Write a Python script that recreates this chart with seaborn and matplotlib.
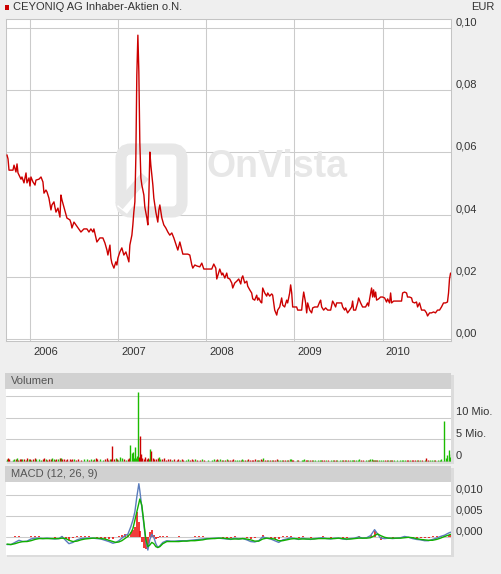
import matplotlib
matplotlib.use("Agg")
import matplotlib.pyplot as plt
from matplotlib.patches import Rectangle, FancyBboxPatch
from matplotlib.lines import Line2D
import seaborn as sns
import pandas as pd

# ---------------- data ----------------
title = "CEYONIQ AG Inhaber-Aktien o.N."
currency = "EUR"

price_t = [
    2005.739, 2005.751, 2005.762, 2005.807, 2005.819, 2005.841, 2005.853, 2005.864, 2005.887, 2005.898,
    2005.909, 2005.932, 2005.955, 2005.966, 2005.989, 2006.000, 2006.011, 2006.034, 2006.057, 2006.068,
    2006.102, 2006.125, 2006.147, 2006.159, 2006.181, 2006.193, 2006.215, 2006.238, 2006.249, 2006.272,
    2006.283, 2006.295, 2006.317, 2006.340, 2006.351, 2006.363, 2006.385, 2006.408, 2006.419, 2006.453,
    2006.465, 2006.476, 2006.499, 2006.521, 2006.544, 2006.578, 2006.612, 2006.646, 2006.669, 2006.691,
    2006.714, 2006.725, 2006.748, 2006.759, 2006.793,
    2006.827, 2006.850, 2006.873, 2006.884, 2006.907, 2006.918, 2006.929, 2006.952, 2006.974, 2006.986,
    2006.997, 2007.020, 2007.042, 2007.065, 2007.088, 2007.110, 2007.122, 2007.133, 2007.156, 2007.167,
    2007.178, 2007.190, 2007.201, 2007.212, 2007.224, 2007.235, 2007.246, 2007.258, 2007.269, 2007.292,
    2007.303, 2007.326, 2007.337, 2007.348, 2007.360, 2007.371, 2007.394, 2007.405, 2007.428, 2007.450,
    2007.462, 2007.473, 2007.496, 2007.518, 2007.541, 2007.564, 2007.586, 2007.609, 2007.632, 2007.666,
    2007.677, 2007.700, 2007.722, 2007.734,
    2007.768, 2007.790, 2007.813, 2007.836, 2007.847, 2007.870, 2007.892, 2007.926, 2007.949, 2007.972,
    2008.017, 2008.062, 2008.085, 2008.108, 2008.119, 2008.130, 2008.153, 2008.176, 2008.187, 2008.210,
    2008.232, 2008.244, 2008.266, 2008.289, 2008.300, 2008.323, 2008.346, 2008.368, 2008.391, 2008.402,
    2008.414, 2008.436, 2008.459, 2008.470, 2008.493, 2008.515, 2008.527, 2008.549, 2008.572, 2008.583,
    2008.595, 2008.617, 2008.629, 2008.640, 2008.663, 2008.685, 2008.697, 2008.719, 2008.742, 2008.753,
    2008.776, 2008.799, 2008.810, 2008.833, 2008.855, 2008.867, 2008.889, 2008.912, 2008.923, 2008.946,
    2008.957, 2008.969, 2008.980, 2009.025,
    2009.037, 2009.082, 2009.093, 2009.105, 2009.127, 2009.139, 2009.150, 2009.173, 2009.195, 2009.207,
    2009.229, 2009.263, 2009.286, 2009.297, 2009.309, 2009.331, 2009.354, 2009.377, 2009.411, 2009.433,
    2009.445, 2009.467, 2009.479, 2009.513, 2009.535, 2009.547, 2009.569, 2009.581, 2009.603, 2009.626,
    2009.649, 2009.660, 2009.671, 2009.694, 2009.717, 2009.728, 2009.751, 2009.773, 2009.807, 2009.830,
    2009.841, 2009.853, 2009.875, 2009.887, 2009.898, 2009.909, 2009.921, 2009.932, 2009.955, 2009.977,
    2010.000, 2010.023, 2010.045, 2010.057, 2010.079, 2010.091, 2010.102, 2010.125, 2010.159, 2010.193,
    2010.215, 2010.227, 2010.249, 2010.272, 2010.283, 2010.306, 2010.329, 2010.340, 2010.363, 2010.385,
    2010.397, 2010.419, 2010.442, 2010.476, 2010.498, 2010.510, 2010.533, 2010.555, 2010.578, 2010.600,
    2010.623, 2010.646, 2010.668, 2010.691, 2010.714, 2010.736, 2010.748, 2010.759, 2010.771,
]

price_v = [
    0.0592, 0.0579, 0.0543, 0.0543, 0.0559, 0.0537, 0.0563, 0.0534, 0.0521, 0.0514,
    0.0521, 0.0502, 0.0534, 0.0502, 0.0518, 0.0492, 0.0521, 0.0505, 0.0495, 0.0511,
    0.0514, 0.0521, 0.0505, 0.0469, 0.0479, 0.0473, 0.0453, 0.0415, 0.0431, 0.0441,
    0.0424, 0.0408, 0.0421, 0.0392, 0.0463, 0.0447, 0.0424, 0.0399, 0.0389, 0.0383,
    0.0373, 0.0357, 0.0376, 0.0367, 0.0357, 0.0344, 0.0354, 0.0354, 0.0344, 0.0354,
    0.0344, 0.0354, 0.0325, 0.0312, 0.0325,
    0.0325, 0.0309, 0.0286, 0.0270, 0.0302, 0.0260, 0.0244, 0.0228, 0.0248, 0.0238,
    0.0260, 0.0280, 0.0293, 0.0270, 0.0280, 0.0260, 0.0248, 0.0302, 0.0334, 0.0367,
    0.0408, 0.0441, 0.0585, 0.0849, 0.0977, 0.0859, 0.0633, 0.0518, 0.0495, 0.0463,
    0.0424, 0.0389, 0.0367, 0.0453, 0.0601, 0.0559, 0.0495, 0.0453, 0.0408, 0.0376,
    0.0415, 0.0431, 0.0389, 0.0367, 0.0357, 0.0344, 0.0334, 0.0341, 0.0325, 0.0296,
    0.0286, 0.0312, 0.0286, 0.0273,
    0.0273, 0.0273, 0.0270, 0.0238, 0.0228, 0.0238, 0.0235, 0.0232, 0.0244, 0.0225,
    0.0225, 0.0225, 0.0241, 0.0228, 0.0193, 0.0203, 0.0225, 0.0206, 0.0212, 0.0196,
    0.0212, 0.0196, 0.0193, 0.0180, 0.0164, 0.0180, 0.0186, 0.0193, 0.0177, 0.0196,
    0.0203, 0.0180, 0.0186, 0.0170, 0.0158, 0.0148, 0.0129, 0.0125, 0.0141, 0.0125,
    0.0132, 0.0119, 0.0116, 0.0164, 0.0148, 0.0138, 0.0148, 0.0138, 0.0145, 0.0141,
    0.0093, 0.0077, 0.0093, 0.0103, 0.0132, 0.0109, 0.0103, 0.0125, 0.0116, 0.0148,
    0.0174, 0.0148, 0.0103, 0.0103,
    0.0093, 0.0093, 0.0125, 0.0151, 0.0116, 0.0084, 0.0116, 0.0093, 0.0084, 0.0100,
    0.0103, 0.0103, 0.0119, 0.0125, 0.0103, 0.0093, 0.0100, 0.0093, 0.0093, 0.0122,
    0.0116, 0.0103, 0.0116, 0.0116, 0.0116, 0.0103, 0.0093, 0.0100, 0.0084, 0.0093,
    0.0103, 0.0122, 0.0093, 0.0093, 0.0116, 0.0132, 0.0116, 0.0103, 0.0103, 0.0116,
    0.0106, 0.0129, 0.0164, 0.0135, 0.0158, 0.0135, 0.0151, 0.0125, 0.0129, 0.0135,
    0.0135, 0.0132, 0.0119, 0.0129, 0.0116, 0.0148, 0.0116, 0.0122, 0.0122, 0.0122,
    0.0122, 0.0148, 0.0151, 0.0148, 0.0135, 0.0135, 0.0132, 0.0119, 0.0116, 0.0119,
    0.0103, 0.0116, 0.0093, 0.0093, 0.0084, 0.0074, 0.0084, 0.0084, 0.0087, 0.0084,
    0.0093, 0.0093, 0.0103, 0.0116, 0.0116, 0.0119, 0.0148, 0.0193, 0.0212,
]

# volume in millions, one bar per price point
volume_mio = [
    0.5, 0.6, 0.4, 0.3, 0.5, 0.4, 0.6, 0.3, 0.4, 0.5,
    0.4, 0.5, 0.3, 0.6, 0.4, 0.5, 0.3, 0.4, 0.6, 0.5,
    0.4, 0.3, 0.5, 0.6, 0.4, 0.3, 0.4, 0.5, 0.7, 0.4,
    0.3, 0.5, 0.4, 0.6, 0.8, 0.5, 0.4, 0.3, 0.4, 0.5,
    0.3, 0.4, 0.5, 0.3, 0.4, 0.3, 0.5, 0.4, 0.3, 0.4,
    0.3, 0.4, 0.6, 0.5, 0.4,
    0.3, 0.4, 0.6, 0.3, 0.5, 0.4, 3.5, 0.4, 0.6, 0.5,
    0.3, 0.9, 0.7, 0.4, 0.3, 0.5, 0.6, 3.7, 1.8, 2.0,
    0.6, 3.2, 0.8, 1.2, 16.0, 1.0, 5.8, 1.6, 0.7, 0.5,
    0.9, 0.4, 0.6, 0.5, 2.8, 2.3, 0.6, 0.5, 0.4, 0.6,
    0.9, 0.5, 0.4, 0.6, 0.3, 0.4, 0.5, 0.3, 0.4, 0.3,
    0.4, 0.3, 0.4, 0.3,
    0.3, 0.4, 0.3, 0.5, 0.3, 0.4, 0.2, 0.3, 0.4, 0.3,
    0.3, 0.2, 0.4, 0.3, 0.5, 0.3, 0.4, 0.2, 0.3, 0.3,
    0.4, 0.2, 0.3, 0.3, 0.4, 0.2, 0.3, 0.3, 0.2, 0.4,
    0.3, 0.2, 0.3, 0.4, 0.3, 0.2, 0.3, 0.5, 0.3, 0.2,
    0.3, 0.4, 0.3, 0.7, 0.3, 0.2, 0.3, 0.2, 0.3, 0.2,
    0.3, 0.4, 0.2, 0.3, 0.3, 0.2, 0.3, 0.2, 0.3, 0.4,
    0.5, 0.3, 0.2, 0.3,
    0.2, 0.3, 0.2, 0.4, 0.2, 0.3, 0.2, 0.2, 0.3, 0.2,
    0.2, 0.3, 0.2, 0.3, 0.2, 0.2, 0.3, 0.2, 0.2, 0.3,
    0.2, 0.2, 0.3, 0.2, 0.2, 0.3, 0.2, 0.2, 0.3, 0.2,
    0.2, 0.3, 0.2, 0.2, 0.3, 0.4, 0.2, 0.2, 0.3, 0.2,
    0.3, 0.4, 0.5, 0.3, 0.2, 0.3, 0.2, 0.3, 0.2, 0.2,
    0.3, 0.2, 0.3, 0.2, 0.2, 0.3, 0.2, 0.2, 0.3, 0.2,
    0.2, 0.3, 0.2, 0.2, 0.3, 0.2, 0.2, 0.3, 0.2, 0.2,
    0.3, 0.2, 0.3, 0.2, 0.7, 0.2, 0.3, 0.2, 0.3, 0.2,
    0.3, 0.2, 0.4, 9.3, 0.7, 1.4, 2.5, 1.0, 1.6,
]

macd_t = [
    2005.739, 2005.785, 2005.830, 2005.875, 2005.921, 2005.966, 2006.011, 2006.057, 2006.102, 2006.147,
    2006.193, 2006.238, 2006.283, 2006.329, 2006.363, 2006.408, 2006.442, 2006.487, 2006.533, 2006.578,
    2006.623, 2006.669, 2006.714, 2006.759, 2006.805, 2006.850, 2006.895, 2006.941, 2006.974, 2007.008,
    2007.042, 2007.076, 2007.110, 2007.144, 2007.167, 2007.190, 2007.212, 2007.235, 2007.246, 2007.269,
    2007.292, 2007.314, 2007.337, 2007.360, 2007.382, 2007.405, 2007.428, 2007.450, 2007.473, 2007.507,
    2007.552, 2007.598, 2007.643, 2007.688, 2007.734, 2007.779, 2007.824, 2007.870, 2007.915, 2007.960,
    2008.006, 2008.051, 2008.096, 2008.142, 2008.187, 2008.232, 2008.278, 2008.323, 2008.368, 2008.414,
    2008.459, 2008.504, 2008.549, 2008.595, 2008.640, 2008.685, 2008.731, 2008.776, 2008.822, 2008.867,
    2008.912, 2008.957, 2009.003, 2009.048, 2009.093, 2009.139, 2009.184, 2009.229, 2009.275, 2009.320,
    2009.365, 2009.411, 2009.456, 2009.501, 2009.547, 2009.592, 2009.637, 2009.683, 2009.728, 2009.773,
    2009.819, 2009.864, 2009.909, 2009.943, 2009.977, 2010.023, 2010.068, 2010.113, 2010.159, 2010.204,
    2010.249, 2010.295, 2010.340, 2010.385, 2010.431, 2010.476, 2010.521, 2010.567, 2010.612, 2010.657,
    2010.703, 2010.748, 2010.771,
]

macd_line = [
    -0.0017, -0.0017, -0.0012, -0.0007, -0.0010, -0.0009, -0.0004, -0.0002, -0.0002, -0.0003,
    -0.0002, -0.0003, -0.0004, -0.0003, 0.0002, -0.0008, -0.0015, -0.0012, -0.0006, -0.0003,
    -0.0002, -0.0002, -0.0002, -0.0003, -0.0004, -0.0007, -0.0010, -0.0014, -0.0012, -0.0008,
    -0.0002, 0.0004, 0.0007, 0.0025, 0.0040, 0.0060, 0.0095, 0.0126, 0.0110, 0.0070,
    0.0030, -0.0010, -0.0030, -0.0005, 0.0007, 0.0000, -0.0015, -0.0024, -0.0020, -0.0012,
    -0.0008, -0.0009, -0.0009, -0.0008, -0.0008, -0.0008, -0.0007, -0.0006, -0.0005, -0.0004,
    -0.0003, -0.0003, -0.0002, -0.0002, -0.0003, -0.0004, -0.0005, -0.0002, -0.0004, -0.0003,
    -0.0006, -0.0010, -0.0011, -0.0008, 0.0001, -0.0002, -0.0004, -0.0008, -0.0012, -0.0006,
    -0.0004, -0.0001, -0.0003, -0.0005, -0.0002, -0.0004, -0.0005, -0.0003, -0.0002, -0.0001,
    -0.0003, -0.0004, -0.0002, -0.0002, -0.0004, -0.0005, -0.0003, -0.0002, 0.0001, -0.0002,
    -0.0001, 0.0004, 0.0018, 0.0008, -0.0002, -0.0003, -0.0002, -0.0003, -0.0002, -0.0001,
    0.0002, 0.0000, -0.0003, -0.0005, -0.0006, -0.0008, -0.0008, -0.0005, -0.0002, 0.0002,
    0.0005, 0.0010, 0.0012,
]

signal_line = [
    -0.0016, -0.0017, -0.0015, -0.0012, -0.0010, -0.0010, -0.0008, -0.0005, -0.0003, -0.0003,
    -0.0003, -0.0003, -0.0003, -0.0003, -0.0002, -0.0003, -0.0007, -0.0010, -0.0009, -0.0006,
    -0.0004, -0.0003, -0.0002, -0.0002, -0.0003, -0.0004, -0.0007, -0.0010, -0.0012, -0.0011,
    -0.0008, -0.0003, 0.0002, 0.0010, 0.0020, 0.0040, 0.0060, 0.0080, 0.0090, 0.0075,
    0.0035, -0.0005, -0.0022, -0.0018, -0.0012, -0.0015, -0.0022, -0.0024, -0.0022, -0.0015,
    -0.0010, -0.0010, -0.0010, -0.0010, -0.0009, -0.0009, -0.0008, -0.0008, -0.0007, -0.0006,
    -0.0004, -0.0003, -0.0003, -0.0002, -0.0002, -0.0003, -0.0004, -0.0004, -0.0004, -0.0003,
    -0.0004, -0.0006, -0.0009, -0.0009, -0.0004, -0.0002, -0.0003, -0.0004, -0.0008, -0.0008,
    -0.0006, -0.0004, -0.0003, -0.0004, -0.0004, -0.0004, -0.0004, -0.0004, -0.0003, -0.0003,
    -0.0003, -0.0003, -0.0003, -0.0002, -0.0003, -0.0004, -0.0004, -0.0003, -0.0002, -0.0002,
    -0.0002, -0.0001, 0.0004, 0.0008, 0.0004, 0.0000, -0.0002, -0.0002, -0.0002, -0.0002,
    -0.0001, 0.0000, -0.0001, -0.0003, -0.0005, -0.0006, -0.0007, -0.0007, -0.0005, -0.0002,
    0.0002, 0.0005, 0.0007,
]

macd_hist = [
    0.0001, 0.0001, 0.0003, 0.0004, 0.0001, 0.0001, 0.0003, 0.0003, 0.0002, 0.0001,
    0.0001, 0.0001, -0.0001, 0.0001, 0.0004, -0.0004, -0.0006, -0.0002, 0.0003, 0.0003,
    0.0002, 0.0002, 0.0001, -0.0001, -0.0001, -0.0003, -0.0003, -0.0004, 0.0001, 0.0003,
    0.0005, 0.0007, 0.0005, 0.0012, 0.0018, 0.0025, 0.0060, 0.0036, 0.0015, -0.0012,
    -0.0026, -0.0028, -0.0022, 0.0012, 0.0017, 0.0006, -0.0004, -0.0002, 0.0002, 0.0003,
    0.0002, 0.0001, 0.0001, 0.0002, 0.0001, 0.0001, 0.0001, 0.0002, 0.0002, 0.0002,
    0.0001, 0.0001, 0.0001, 0.0001, -0.0001, -0.0001, -0.0001, 0.0002, 0.0001, 0.0001,
    -0.0002, -0.0004, -0.0002, 0.0001, 0.0005, 0.0001, -0.0001, -0.0004, -0.0004, 0.0002,
    0.0002, 0.0003, 0.0001, -0.0001, 0.0002, 0.0001, -0.0001, 0.0001, 0.0001, 0.0002,
    0.0001, -0.0001, 0.0001, 0.0001, -0.0001, -0.0001, 0.0001, 0.0001, 0.0003, 0.0001,
    0.0001, 0.0005, 0.0014, 0.0001, -0.0006, -0.0003, 0.0001, -0.0001, 0.0001, 0.0001,
    0.0003, 0.0001, -0.0002, -0.0002, -0.0001, -0.0002, -0.0001, 0.0002, 0.0003, 0.0004,
    0.0003, 0.0005, 0.0005,
]

years = [2006, 2007, 2008, 2009, 2010]
price_ticks = [0.00, 0.02, 0.04, 0.06, 0.08, 0.10]
price_tick_labels = ["0,00", "0,02", "0,04", "0,06", "0,08", "0,10"]
vol_grid = [0, 5, 10, 15]
vol_ticks = [0, 5, 10]
vol_tick_labels = ["0", "5 Mio.", "10 Mio."]
macd_ticks = [0.000, 0.005, 0.010]
macd_tick_labels = ["0,000", "0,005", "0,010"]

# ---------------- style ----------------
sns.set_theme(style="white")
plt.rcParams['font.family'] = ['Liberation Sans', 'DejaVu Sans']

W, H = 501, 574
fig = plt.figure(figsize=(W / 100, H / 100), dpi=100)
fig.patch.set_facecolor('#efefef')

GRID = '#cbcbcb'
TXT = '#333333'
HDR = '#d1d1d1'
SHADOW = '#dcdcdc'
RED = '#cc0000'
GREEN = '#1cbc00'
BLUE = '#5b7dbd'
FS = 8


def frac(x0, y0, x1, y1):
    return [x0 / W, 1 - y1 / H, (x1 - x0) / W, (y1 - y0) / H]


def fig_rect(x0, y0, x1, y1, color, z=-1):
    fig.patches.append(Rectangle((x0 / W, 1 - y1 / H), (x1 - x0) / W, (y1 - y0) / H,
                                 transform=fig.transFigure, facecolor=color,
                                 edgecolor='none', zorder=z))


def fig_text(x, y, s, **kw):
    fig.text(x / W, 1 - y / H, s, **kw)


# title row
fig_rect(5, 5, 9, 10, RED, z=1)
fig_text(13, 7.5, title, fontsize=FS, color=TXT, ha='left', va='center')
fig_text(494, 7.5, currency, fontsize=FS, color=TXT, ha='right', va='center')

# headers and shadows for lower panels
fig_rect(7, 375, 454, 464, SHADOW)
fig_rect(5, 373, 451, 389, HDR)
fig_text(11, 381, "Volumen", fontsize=FS, color='#555555', ha='left', va='center')
fig_rect(7, 468, 454, 557, SHADOW)
fig_rect(5, 466, 451, 482, HDR)
fig_text(11, 474, "MACD (12, 26, 9)", fontsize=FS, color='#555555', ha='left', va='center')

XMIN, XMAX = 2005.728, 2010.776


def right_labels(ax, ticks, labels):
    for v, lab in zip(ticks, labels):
        ax.annotate(lab, xy=(1, v), xycoords=('axes fraction', 'data'),
                    xytext=(5, 5.5), textcoords='offset pixels', ha='left', va='center',
                    fontsize=FS, color=TXT, annotation_clip=False)


def base_axes(ax):
    ax.set_facecolor('white')
    ax.set_xlim(XMIN, XMAX)
    ax.tick_params(length=0, labelbottom=False, labelleft=False, labelright=False)
    ax.set_xlabel('')
    ax.set_ylabel('')
    ax.set_axisbelow(True)


# ---------------- price panel ----------------
ax_p = fig.add_axes(frac(6, 19, 451, 341))
df_p = pd.DataFrame({'t': price_t, 'price': price_v})
sns.lineplot(data=df_p, x='t', y='price', ax=ax_p, color=RED, linewidth=1.0,
             legend=False, zorder=3)
base_axes(ax_p)
ax_p.set_ylim(-0.00064, 0.1029)
ax_p.set_yticks(price_ticks)
ax_p.set_xticks(years)
ax_p.grid(True, color=GRID, linewidth=0.75)
for s in ax_p.spines.values():
    s.set_color('#c4c4c4')
    s.set_linewidth(0.75)
right_labels(ax_p, price_ticks, price_tick_labels)
for yr in years:
    ax_p.annotate(str(yr), xy=(yr, 0), xycoords=('data', 'axes fraction'),
                  xytext=(3, -11), textcoords='offset pixels', ha='left', va='center',
                  fontsize=FS, color=TXT, annotation_clip=False)

# watermark (figure pixel positions via inches transform)
WM = '#e7e7e7'
tr = fig.dpi_scale_trans
icon = FancyBboxPatch((1.21, (H - 212) / 100), 0.61, 0.63,
                      boxstyle='round,pad=0,rounding_size=0.10',
                      transform=tr, facecolor='none', edgecolor=WM, linewidth=8,
                      zorder=2, clip_on=False)
ax_p.add_artist(icon)
ax_p.add_artist(Line2D([1.22, 1.45], [(H - 210) / 100, (H - 180) / 100], transform=tr,
                       color='white', linewidth=9, zorder=2, solid_capstyle='butt'))
ax_p.add_artist(Line2D([1.19, 1.45], [(H - 206) / 100, (H - 176) / 100], transform=tr,
                       color=WM, linewidth=7, zorder=2, solid_capstyle='butt'))
ax_p.text(2.07, (H - 177) / 100, "OnVista", transform=tr, fontsize=27,
          fontweight='bold', color=WM, ha='left', va='baseline', zorder=2)

# ---------------- volume panel ----------------
ax_v = fig.add_axes(frac(6, 389, 451, 462))
bar_colors = [GREEN] + [GREEN if price_v[i] >= price_v[i - 1] else RED
                        for i in range(1, len(price_v))]
ax_v.vlines(price_t, 0, volume_mio, colors=bar_colors, linewidth=1.0, zorder=3)
base_axes(ax_v)
ax_v.set_ylim(-0.23, 16.63)
ax_v.set_yticks(vol_grid)
ax_v.set_xticks([])
ax_v.grid(True, axis='y', color=GRID, linewidth=0.75)
for s in ax_v.spines.values():
    s.set_visible(False)
right_labels(ax_v, vol_ticks, vol_tick_labels)

# ---------------- MACD panel ----------------
ax_m = fig.add_axes(frac(6, 482, 451, 555))
ax_m.vlines(macd_t, 0, macd_hist, colors='#ee0000', linewidth=1.1, zorder=2)
df_m = pd.DataFrame({'t': macd_t, 'macd': macd_line, 'signal': signal_line})
sns.lineplot(data=df_m, x='t', y='macd', ax=ax_m, color=BLUE, linewidth=1.0,
             legend=False, zorder=3)
sns.lineplot(data=df_m, x='t', y='signal', ax=ax_m, color='#10b000', linewidth=1.0,
             legend=False, zorder=4)
base_axes(ax_m)
ax_m.set_ylim(-0.00416, 0.0130)
ax_m.set_yticks(macd_ticks)
ax_m.set_xticks([])
ax_m.grid(True, axis='y', color=GRID, linewidth=0.75)
for s in ax_m.spines.values():
    s.set_visible(False)
right_labels(ax_m, macd_ticks, macd_tick_labels)

fig.savefig("out.png", dpi=100, facecolor=fig.get_facecolor())
